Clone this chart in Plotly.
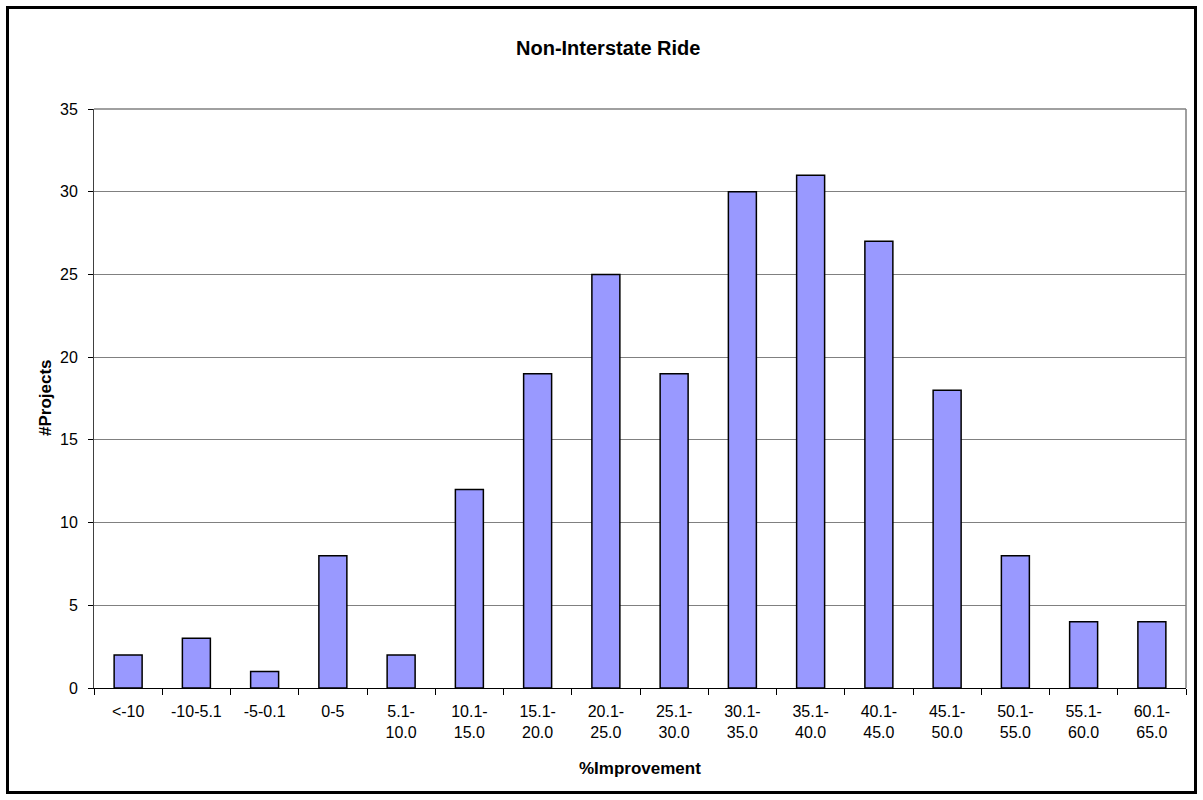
import plotly.graph_objects as go

categories = ["<-10", "-10-5.1", "-5-0.1", "0-5", "5.1-10.0", "10.1-15.0", "15.1-20.0",
              "20.1-25.0", "25.1-30.0", "30.1-35.0", "35.1-40.0", "40.1-45.0",
              "45.1-50.0", "50.1-55.0", "55.1-60.0", "60.1-65.0"]
tick_text = ["<-10", "-10-5.1", "-5-0.1", "0-5", "5.1-<br>10.0", "10.1-<br>15.0", "15.1-<br>20.0",
             "20.1-<br>25.0", "25.1-<br>30.0", "30.1-<br>35.0", "35.1-<br>40.0", "40.1-<br>45.0",
             "45.1-<br>50.0", "50.1-<br>55.0", "55.1-<br>60.0", "60.1-<br>65.0"]
projects = [2, 3, 1, 8, 2, 12, 19, 25, 19, 30, 31, 27, 18, 8, 4, 4]
y_ticks = [0, 5, 10, 15, 20, 25, 30, 35]

fig = go.Figure()
fig.add_trace(go.Bar(
    x=categories, y=projects,
    marker=dict(color="#9999FF", line=dict(color="black", width=1.5)),
    width=0.41,
))

L, R, T, B = 94, 1186, 109, 688
W, H = 1203, 800
pw, ph = R - L, B - T

def px(x):
    return (x - L) / pw

def py(y):
    return (B - y) / ph

FONT = "Arial, Liberation Sans, sans-serif"

fig.update_layout(
    width=W, height=H,
    margin=dict(l=L, r=W - R, t=T, b=H - B),
    paper_bgcolor="white", plot_bgcolor="white",
    font=dict(family=FONT, size=16, color="black"),
    showlegend=False,
    xaxis=dict(
        type="category", tickmode="array", tickvals=categories, ticktext=tick_text,
        tickson="boundaries", ticks="outside", ticklen=6, tickcolor="black",
        showline=True, linecolor="black", linewidth=1, mirror=False, showgrid=False,
        tickfont=dict(size=16), ticklabelstandoff=9,
        range=[-0.5, len(categories) - 0.5],
    ),
    yaxis=dict(
        range=[0, 35], tickvals=y_ticks, ticks="outside", ticklen=5, tickcolor="black",
        showline=True, linecolor="#404040", linewidth=1, showgrid=True,
        gridcolor="#808080", gridwidth=1, zeroline=False,
        tickfont=dict(size=16), ticklabelstandoff=7,
    ),
    annotations=[
        dict(text="<b>Non-Interstate Ride</b>", xref="paper", yref="paper",
             x=px(608), y=py(48), xanchor="center", yanchor="middle",
             showarrow=False, font=dict(size=20, family=FONT)),
        dict(text="<b>%Improvement</b>", xref="paper", yref="paper",
             x=px(640), y=py(768), xanchor="center", yanchor="middle",
             showarrow=False, font=dict(size=17, family=FONT)),
        dict(text="<b>#Projects</b>", xref="paper", yref="paper",
             x=px(45), y=py(398), xanchor="center", yanchor="middle", textangle=-90,
             showarrow=False, font=dict(size=17, family=FONT)),
    ],
    shapes=[
        dict(type="line", xref="paper", yref="paper", x0=0, x1=1, y0=1, y1=1,
             line=dict(color="#808080", width=1.5)),
        dict(type="line", xref="paper", yref="paper", x0=1, x1=1, y0=0, y1=1,
             line=dict(color="#808080", width=1.5)),
        dict(type="rect", xref="paper", yref="paper",
             x0=px(7.5), x1=px(1195.5), y0=py(792.5), y1=py(7.5),
             line=dict(color="black", width=3), fillcolor="rgba(0,0,0,0)", layer="above"),
    ],
)

fig.write_html("out.html", config={"displayModeBar": False},
               post_script="document.body.style.margin='0px';")
